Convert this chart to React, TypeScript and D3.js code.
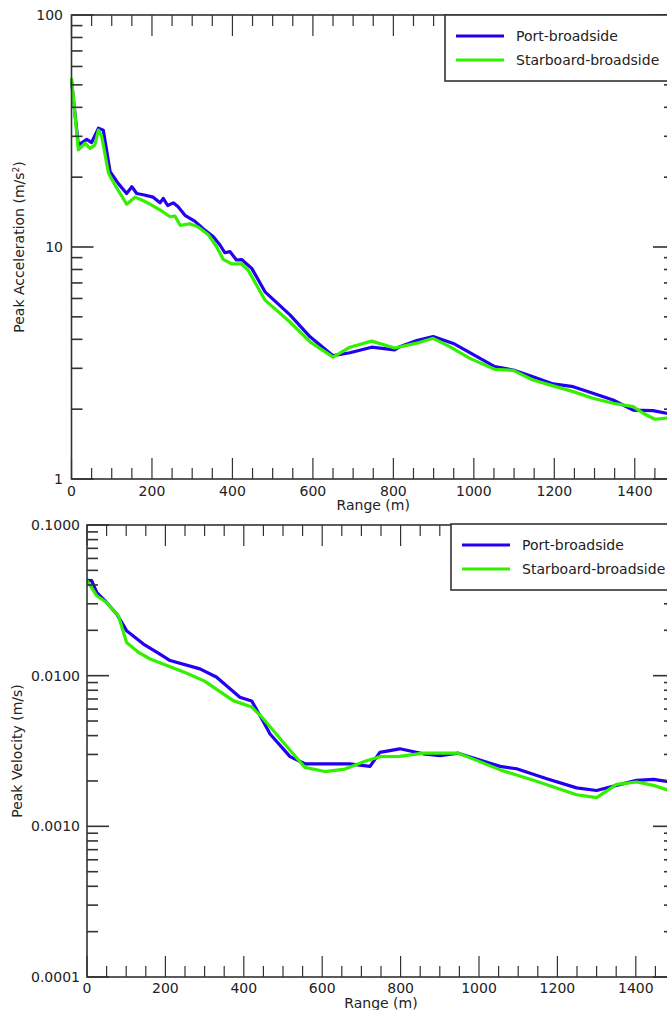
import React from "react";
import * as d3 from "d3";

// ---------- data ----------
const accelPortRange = [0, 17, 30, 38, 50, 67, 79, 96, 116, 137, 150, 162, 178, 203, 220, 228, 239, 253, 265, 282, 307, 332, 352, 369, 381, 394, 410, 423, 448, 481, 543, 593, 650, 692, 746, 803, 816, 858, 899, 949, 1052, 1098, 1147, 1197, 1247, 1296, 1346, 1396, 1445, 1479, 1500];
const accelPortValue = [52, 27.5, 28.5, 29.1, 28.2, 32.5, 31.9, 21.1, 18.8, 17.0, 18.2, 17.0, 16.8, 16.4, 15.5, 16.2, 15.1, 15.5, 14.9, 13.7, 12.9, 11.8, 11.1, 10.2, 9.45, 9.55, 8.79, 8.83, 8.09, 6.41, 5.1, 4.1, 3.4, 3.5, 3.7, 3.6, 3.72, 3.95, 4.11, 3.84, 3.05, 2.95, 2.76, 2.57, 2.5, 2.34, 2.19, 1.98, 1.97, 1.92, 1.9];

const accelStbdRange = [0, 17, 34, 46, 58, 67, 75, 92, 108, 137, 158, 183, 195, 207, 224, 245, 257, 270, 294, 315, 340, 361, 377, 398, 423, 439, 481, 543, 593, 650, 692, 746, 803, 858, 899, 940, 990, 1052, 1098, 1147, 1197, 1247, 1296, 1346, 1396, 1421, 1450, 1479, 1500];
const accelStbdValue = [53.4, 26.2, 28, 26.6, 27.5, 31.9, 30, 20.8, 18.5, 15.3, 16.4, 15.7, 15.3, 14.9, 14.3, 13.5, 13.6, 12.4, 12.6, 12.2, 11.3, 10.0, 8.85, 8.45, 8.45, 7.95, 5.9, 4.75, 3.9, 3.35, 3.7, 3.93, 3.67, 3.85, 4.04, 3.72, 3.31, 2.97, 2.94, 2.67, 2.52, 2.38, 2.23, 2.12, 2.05, 1.92, 1.81, 1.83, 1.83];

const velPortRange = [0, 12, 25, 50, 76, 101, 144, 186, 212, 288, 330, 390, 420, 449, 467, 518, 556, 620, 670, 722, 747, 798, 858, 901, 947, 994, 1054, 1096, 1173, 1249, 1300, 1351, 1402, 1445, 1479, 1500];
const velPortValue = [0.043, 0.0427, 0.0356, 0.0306, 0.0256, 0.0199, 0.0162, 0.0139, 0.0126, 0.0111, 0.0098, 0.0072, 0.0068, 0.005, 0.0041, 0.0029, 0.0026, 0.0026, 0.0026, 0.0025, 0.0031, 0.00327, 0.00303, 0.00295, 0.00306, 0.0028, 0.0025, 0.00241, 0.00207, 0.0018, 0.00173, 0.00187, 0.00202, 0.00205, 0.00199, 0.0019];

const velStbdRange = [0, 25, 50, 80, 101, 131, 161, 250, 300, 373, 420, 449, 518, 556, 607, 658, 709, 747, 798, 858, 947, 994, 1054, 1139, 1249, 1300, 1351, 1402, 1445, 1479, 1500];
const velStbdValue = [0.0427, 0.0339, 0.0306, 0.025, 0.0166, 0.0143, 0.0129, 0.0105, 0.0092, 0.00683, 0.0062, 0.0052, 0.0032, 0.00246, 0.00231, 0.0024, 0.0027, 0.0029, 0.00291, 0.00306, 0.00306, 0.00274, 0.00237, 0.00202, 0.00162, 0.00155, 0.0019, 0.00197, 0.00187, 0.00175, 0.0017];

const xMajorTicks = [0, 200, 400, 600, 800, 1000, 1200, 1400];
const seriesNames = ["Port-broadside", "Starboard-broadside"];
const accelTickLabels = ["1", "10", "100"];
const velTickLabels = ["0.0001", "0.0010", "0.0100", "0.1000"];

const BLUE = "#2200f0";
const GREEN = "#33f000";
const AXIS = "#333";
const FONT = "DejaVu Sans, sans-serif";

type PanelProps = {
  top: number;
  bottom: number;
  left: number;
  right: number;
  yDomain: [number, number];
  yLabels: string[];
  yTitle: React.ReactNode;
  yTitleX: number;
  series: { r: number[]; v: number[]; color: string }[];
  legendX: number;
  legendY: number;
  xLabelY: number;
  xTitleY: number;
  yLabelX: number;
};

function Panel(p: PanelProps) {
  const x = d3.scaleLinear().domain([0, 1500]).range([p.left, p.right]);
  const y = d3.scaleLog().domain(p.yDomain).range([p.bottom, p.top]);
  const line = d3
    .line<[number, number]>()
    .x((d) => x(d[0]))
    .y((d) => y(d[1]));

  const xMinor = d3.range(0, 1501, 50).filter((v) => v % 200 !== 0);
  const decades: number[] = [];
  for (let e = Math.log10(p.yDomain[0]); e <= Math.log10(p.yDomain[1]) + 1e-9; e++) decades.push(Math.pow(10, e));
  const yMinor: number[] = [];
  decades.slice(0, -1).forEach((d) => {
    for (let k = 2; k <= 9; k++) yMinor.push(d * k);
  });

  const majorLen = 21;
  const minorLen = 11;
  const midY = (p.top + p.bottom) / 2;
  const midX = (p.left + p.right) / 2;

  return (
    <g>
      {p.series.map((s, i) => (
        <path
          key={i}
          d={line(s.r.map((r, j) => [r, s.v[j]] as [number, number])) || ""}
          fill="none"
          stroke={s.color}
          strokeWidth={3.2}
          strokeLinejoin="round"
        />
      ))}
      <rect x={p.left} y={p.top} width={p.right - p.left} height={p.bottom - p.top} fill="none" stroke={AXIS} strokeWidth={1.6} />
      {xMajorTicks.map((t) => (
        <g key={"xM" + t}>
          <line x1={x(t)} x2={x(t)} y1={p.bottom} y2={p.bottom - majorLen} stroke={AXIS} strokeWidth={1.2} />
          <line x1={x(t)} x2={x(t)} y1={p.top} y2={p.top + majorLen} stroke={AXIS} strokeWidth={1.2} />
          <text x={x(t)} y={p.xLabelY} textAnchor="middle" fontSize={14} fontFamily={FONT} fill="#222">
            {t}
          </text>
        </g>
      ))}
      {xMinor.map((t) => (
        <g key={"xm" + t}>
          <line x1={x(t)} x2={x(t)} y1={p.bottom} y2={p.bottom - minorLen} stroke={AXIS} strokeWidth={1.2} />
          <line x1={x(t)} x2={x(t)} y1={p.top} y2={p.top + minorLen} stroke={AXIS} strokeWidth={1.2} />
        </g>
      ))}
      {decades.map((d, i) => (
        <g key={"yM" + i}>
          <line x1={p.left} x2={p.left + majorLen + 1} y1={y(d)} y2={y(d)} stroke={AXIS} strokeWidth={1.6} />
          <line x1={p.right} x2={p.right - majorLen - 1} y1={y(d)} y2={y(d)} stroke={AXIS} strokeWidth={1.6} />
          <text x={p.yLabelX} y={y(d)} dy="0.35em" textAnchor="end" fontSize={14} fontFamily={FONT} fill="#222">
            {p.yLabels[i]}
          </text>
        </g>
      ))}
      {yMinor.map((d, i) => (
        <g key={"ym" + i}>
          <line x1={p.left} x2={p.left + minorLen} y1={y(d)} y2={y(d)} stroke={AXIS} strokeWidth={1.6} />
          <line x1={p.right} x2={p.right - minorLen} y1={y(d)} y2={y(d)} stroke={AXIS} strokeWidth={1.6} />
        </g>
      ))}
      <text x={midX} y={p.xTitleY} textAnchor="middle" fontSize={14} fontFamily={FONT} fill="#222">
        Range (m)
      </text>
      <text
        transform={`translate(${p.yTitleX},${midY}) rotate(-90)`}
        textAnchor="middle"
        fontSize={14}
        fontFamily={FONT}
        fill="#222"
      >
        {p.yTitle}
      </text>
      <g transform={`translate(${p.legendX},${p.legendY})`}>
        <rect x={0} y={0} width={240} height={66} fill="#fff" stroke={AXIS} strokeWidth={1.6} />
        {seriesNames.map((n, i) => (
          <g key={n} transform={`translate(0,${21 + i * 24})`}>
            <line x1={11} x2={59} y1={0} y2={0} stroke={p.series[i].color} strokeWidth={3.2} />
            <text x={71} y={0} dy="0.35em" fontSize={14} fontFamily={FONT} fill="#222">
              {n}
            </text>
          </g>
        ))}
      </g>
    </g>
  );
}

export default function App() {
  return (
    <svg
      width={667}
      height={1010}
      style={{ position: "absolute", left: 0, top: 0, background: "#fff" }}
    >
      <rect x={0} y={0} width={667} height={1010} fill="#fff" />
      <Panel
        top={15}
        bottom={479}
        left={71.5}
        right={675}
        yDomain={[1, 100]}
        yLabels={accelTickLabels}
        yTitle={
          <>
            Peak Acceleration (m/s
            <tspan baselineShift="super" fontSize={9}>2</tspan>
            <tspan>)</tspan>
          </>
        }
        yTitleX={24}
        series={[
          { r: accelPortRange, v: accelPortValue, color: BLUE },
          { r: accelStbdRange, v: accelStbdValue, color: GREEN },
        ]}
        legendX={445}
        legendY={15}
        xLabelY={496}
        xTitleY={510}
        yLabelX={63}
      />
      <Panel
        top={525}
        bottom={977}
        left={87}
        right={675}
        yDomain={[0.0001, 0.1]}
        yLabels={velTickLabels}
        yTitle={"Peak Velocity (m/s)"}
        yTitleX={22}
        series={[
          { r: velPortRange, v: velPortValue, color: BLUE },
          { r: velStbdRange, v: velStbdValue, color: GREEN },
        ]}
        legendX={451}
        legendY={524}
        xLabelY={993}
        xTitleY={1008}
        yLabelX={80}
      />
    </svg>
  );
}
